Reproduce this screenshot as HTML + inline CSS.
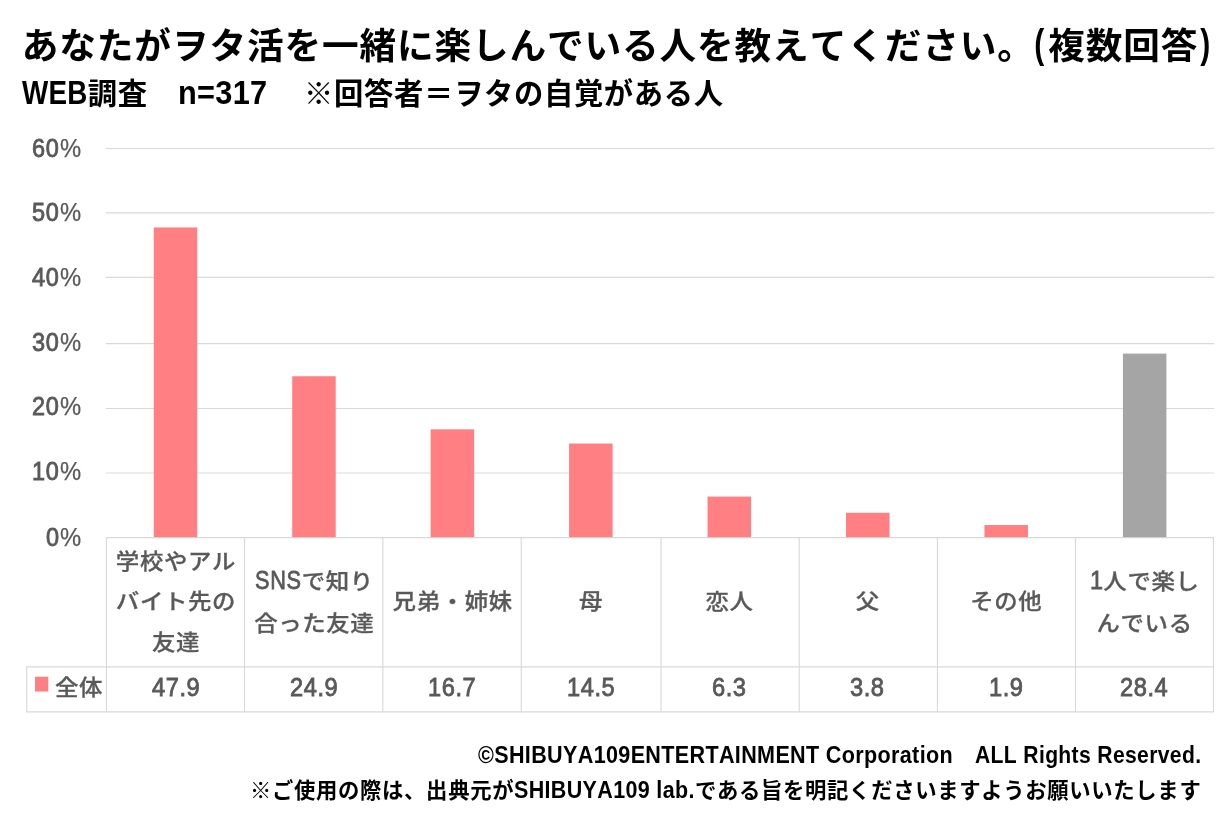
<!DOCTYPE html>
<html lang="ja">
<head>
<meta charset="utf-8">
<title>ヲタ活を一緒に楽しんでいる人</title>
<style>
html,body{margin:0;padding:0;background:#fff;}
body{width:1229px;height:822px;position:relative;overflow:hidden;
  font-family:"Liberation Sans","Noto Sans CJK JP",sans-serif;color:#000;font-kerning:none;}
.abs{position:absolute;white-space:nowrap;}
h1,p{margin:0;padding:0;}
.pl,.pr{display:inline-block;line-height:1;transform:translateY(-2.2px) scale(.82,1.09);}
.pl{margin:0 2px 0 -1.5px;}
.pr{margin:0 0 0 0.5px;}
.l{display:inline-block;white-space:pre;transform-origin:0 50%;line-height:1;vertical-align:baseline;}
.l1{font-size:32.85px;font-weight:700;letter-spacing:0.355px;transform:scaleX(0.8462);margin-right:-11.95px;}
.l2{font-size:32.85px;font-weight:700;letter-spacing:0.321px;transform:scaleX(0.9358);margin-right:-6.14px;}
.l3{font-size:32.85px;font-weight:700;letter-spacing:0.411px;transform:scaleX(0.7295);margin-right:-2.58px;}
.l4{font-size:25.68px;font-weight:400;letter-spacing:0.673px;transform:scaleX(0.9147);margin-right:-2.55px;-webkit-text-stroke:0.85px #595959;}
.l5{font-size:25.68px;font-weight:400;transform:scaleX(0.9277);margin-right:-1.31px;margin-left:1.01px;-webkit-text-stroke:0.25px #595959;}
.l6{font-size:25.68px;font-weight:400;letter-spacing:0.673px;transform:scaleX(0.9147);margin-right:-1.27px;-webkit-text-stroke:0.85px #595959;}
.l7{font-size:25.68px;font-weight:400;letter-spacing:0.589px;transform:scaleX(0.9208);margin-right:-4.14px;-webkit-text-stroke:0.85px #595959;}
.l8{font-size:27.91px;font-weight:400;letter-spacing:0.901px;transform:scaleX(0.7787);margin-right:-13.30px;-webkit-text-stroke:0.85px #595959;}
.l9{font-size:25.68px;font-weight:400;letter-spacing:0.561px;transform:scaleX(0.9233);margin-right:-2.87px;-webkit-text-stroke:0.85px #595959;}
.l10{font-size:27.91px;font-weight:400;letter-spacing:0.731px;transform:scaleX(0.8416);margin-right:-2.58px;-webkit-text-stroke:0.85px #595959;}
.l11{font-size:24.10px;font-weight:700;letter-spacing:0.391px;transform:scaleX(0.8943);margin-right:-56.16px;}
.l12{font-size:24.10px;font-weight:700;letter-spacing:0.399px;transform:scaleX(0.8764);margin-right:-31.94px;}
.l13{font-size:24.10px;font-weight:700;letter-spacing:0.392px;transform:scaleX(0.8918);margin-right:-21.93px;}
.title{font-weight:700;line-height:54px;}
.sub{font-weight:700;line-height:42px;}
.gfx{position:absolute;left:0;top:0;}
.ylab{position:absolute;left:0;width:82px;text-align:right;line-height:30px;font-weight:500;color:#595959;white-space:nowrap;}
.cat{position:absolute;text-align:center;line-height:40.5px;font-weight:500;color:#595959;white-space:nowrap;display:flex;flex-direction:column;justify-content:center;}
.val{position:absolute;text-align:center;line-height:44px;font-weight:500;color:#595959;white-space:nowrap;}
.foot{line-height:34px;font-weight:700;text-align:right;}
</style>
</head>
<body>

<h1 class="abs title" style="left:21.80px;top:20.00px;font-size:36.67px;letter-spacing:0.86px">あなたがヲタ活を一緒に楽しんでいる人を教えてください。<span class="pl">(</span>複数回答<span class="pr">)</span></h1>
<p class="abs sub" style="left:22.00px;top:73.00px;font-size:29.33px;letter-spacing:0.65px"><span class="l l1">WEB</span>調査　<span class="l l2">n=317</span>　<span class="l l3"> </span>※回答者＝ヲタの自覚がある人</p>
<div class="chart">
<svg class="gfx" width="1229" height="822" viewBox="0 0 1229 822" aria-hidden="true">
<g stroke="#d9d9d9" stroke-width="1.15" fill="none">
<line x1="105.88" y1="148.45" x2="1214.08" y2="148.45"/>
<line x1="105.88" y1="212.90" x2="1214.08" y2="212.90"/>
<line x1="105.88" y1="277.40" x2="1214.08" y2="277.40"/>
<line x1="105.88" y1="343.55" x2="1214.08" y2="343.55"/>
<line x1="105.88" y1="408.45" x2="1214.08" y2="408.45"/>
<line x1="105.88" y1="473.00" x2="1214.08" y2="473.00"/>
<line x1="105.88" y1="537.55" x2="1214.08" y2="537.55"/>
<line x1="106.45" y1="537.55" x2="106.45" y2="712.38"/>
<line x1="244.50" y1="537.55" x2="244.50" y2="712.38"/>
<line x1="382.85" y1="537.55" x2="382.85" y2="712.38"/>
<line x1="521.20" y1="537.55" x2="521.20" y2="712.38"/>
<line x1="661.00" y1="537.55" x2="661.00" y2="712.38"/>
<line x1="799.20" y1="537.55" x2="799.20" y2="712.38"/>
<line x1="937.45" y1="537.55" x2="937.45" y2="712.38"/>
<line x1="1075.50" y1="537.55" x2="1075.50" y2="712.38"/>
<line x1="1213.50" y1="537.55" x2="1213.50" y2="712.38"/>
<line x1="26.75" y1="666.22" x2="26.75" y2="712.38"/>
<line x1="26.75" y1="666.80" x2="1213.50" y2="666.80"/>
<line x1="26.75" y1="711.80" x2="1213.50" y2="711.80"/>
</g>
<rect x="153.75" y="227.44" width="43.50" height="309.71" fill="#ff7f82"/>
<rect x="292.20" y="376.25" width="43.50" height="160.90" fill="#ff7f82"/>
<rect x="430.65" y="429.30" width="43.50" height="107.85" fill="#ff7f82"/>
<rect x="569.10" y="443.53" width="43.50" height="93.61" fill="#ff7f82"/>
<rect x="707.55" y="496.59" width="43.50" height="40.56" fill="#ff7f82"/>
<rect x="846.00" y="512.76" width="43.50" height="24.39" fill="#ff7f82"/>
<rect x="984.45" y="525.06" width="43.50" height="12.09" fill="#ff7f82"/>
<rect x="1122.90" y="353.60" width="43.50" height="183.55" fill="#a5a5a5"/>
<rect x="35.00" y="676.70" width="13.30" height="14.80" fill="#ff7f82"/>
</svg>
<div class="ylab" style="top:133.85px;font-size:24.00px"><span class="l l4">60</span><span class="l l5">%</span></div>
<div class="ylab" style="top:198.30px;font-size:24.00px"><span class="l l4">50</span><span class="l l5">%</span></div>
<div class="ylab" style="top:262.80px;font-size:24.00px"><span class="l l4">40</span><span class="l l5">%</span></div>
<div class="ylab" style="top:327.95px;font-size:24.00px"><span class="l l4">30</span><span class="l l5">%</span></div>
<div class="ylab" style="top:391.85px;font-size:24.00px"><span class="l l4">20</span><span class="l l5">%</span></div>
<div class="ylab" style="top:457.40px;font-size:24.00px"><span class="l l4">10</span><span class="l l5">%</span></div>
<div class="ylab" style="top:522.95px;font-size:24.00px"><span class="l l6">0</span><span class="l l5">%</span></div>
</div>
<div class="table">
<div class="cat" style="left:106.75px;top:537.95px;width:138.38px;height:129.25px;font-size:23.45px;line-height:43.80px;letter-spacing:0.60px;transform:scaleY(0.920);-webkit-text-stroke:0.30px #595959"><span>学校やアル</span><span>バイト先の</span><span>友達</span></div>
<div class="val" style="left:106.45px;top:665.70px;width:138.38px;font-size:24.00px"><span class="l l7">47.9</span></div>
<div class="cat" style="left:245.13px;top:537.65px;width:138.38px;height:129.25px;font-size:23.45px;line-height:44.78px;letter-spacing:0.60px;transform:scaleY(0.920);-webkit-text-stroke:0.30px #595959"><span><span class="l l8">SNS</span>で知り</span><span>合った友達</span></div>
<div class="val" style="left:244.83px;top:665.70px;width:138.38px;font-size:24.00px"><span class="l l7">24.9</span></div>
<div class="cat" style="left:383.51px;top:537.05px;width:138.38px;height:129.25px;font-size:23.45px;line-height:44.02px;letter-spacing:0.60px;transform:scaleY(0.920);-webkit-text-stroke:0.30px #595959"><span>兄弟・姉妹</span></div>
<div class="val" style="left:383.21px;top:665.70px;width:138.38px;font-size:24.00px"><span class="l l7">16.7</span></div>
<div class="cat" style="left:521.89px;top:537.05px;width:138.38px;height:129.25px;font-size:23.45px;line-height:44.02px;letter-spacing:0.60px;transform:scaleY(0.920);-webkit-text-stroke:0.30px #595959"><span>母</span></div>
<div class="val" style="left:521.59px;top:665.70px;width:138.38px;font-size:24.00px"><span class="l l7">14.5</span></div>
<div class="cat" style="left:660.27px;top:537.05px;width:138.38px;height:129.25px;font-size:23.45px;line-height:44.02px;letter-spacing:0.60px;transform:scaleY(0.920);-webkit-text-stroke:0.30px #595959"><span>恋人</span></div>
<div class="val" style="left:659.98px;top:665.70px;width:138.38px;font-size:24.00px"><span class="l l9">6.3</span></div>
<div class="cat" style="left:798.66px;top:537.05px;width:138.38px;height:129.25px;font-size:23.45px;line-height:44.02px;letter-spacing:0.60px;transform:scaleY(0.920);-webkit-text-stroke:0.30px #595959"><span>父</span></div>
<div class="val" style="left:798.36px;top:665.70px;width:138.38px;font-size:24.00px"><span class="l l9">3.8</span></div>
<div class="cat" style="left:937.04px;top:537.05px;width:138.38px;height:129.25px;font-size:23.45px;line-height:44.02px;letter-spacing:0.60px;transform:scaleY(0.920);-webkit-text-stroke:0.30px #595959"><span>その他</span></div>
<div class="val" style="left:936.74px;top:665.70px;width:138.38px;font-size:24.00px"><span class="l l9">1.9</span></div>
<div class="cat" style="left:1075.42px;top:537.65px;width:138.38px;height:129.25px;font-size:23.45px;line-height:44.78px;letter-spacing:0.60px;transform:scaleY(0.920);-webkit-text-stroke:0.30px #595959"><span><span class="l l10">1</span>人で楽し</span><span>んでいる</span></div>
<div class="val" style="left:1075.12px;top:665.70px;width:138.38px;font-size:24.00px"><span class="l l7">28.4</span></div>
<div class="abs leg" style="left:55.00px;top:665.80px;font-size:23.45px;line-height:44px;letter-spacing:0.60px;font-weight:500;color:#595959;transform:scaleY(0.920);-webkit-text-stroke:0.30px #595959">全体</div>
</div>
<p class="abs foot" style="top:739.20px;right:27.60px;font-size:21.33px;letter-spacing:0.69px"><span class="l l11">©SHIBUYA109ENTERTAINMENT Corporation</span>　<span class="l l12">ALL Rights Reserved.</span></p>
<p class="abs foot" style="top:774.00px;right:27.60px;font-size:21.33px;letter-spacing:0.69px">※ご使用の際は、出典元が<span class="l l13">SHIBUYA109 lab.</span>である旨を明記くださいますようお願いいたします</p>
</body>
</html>
